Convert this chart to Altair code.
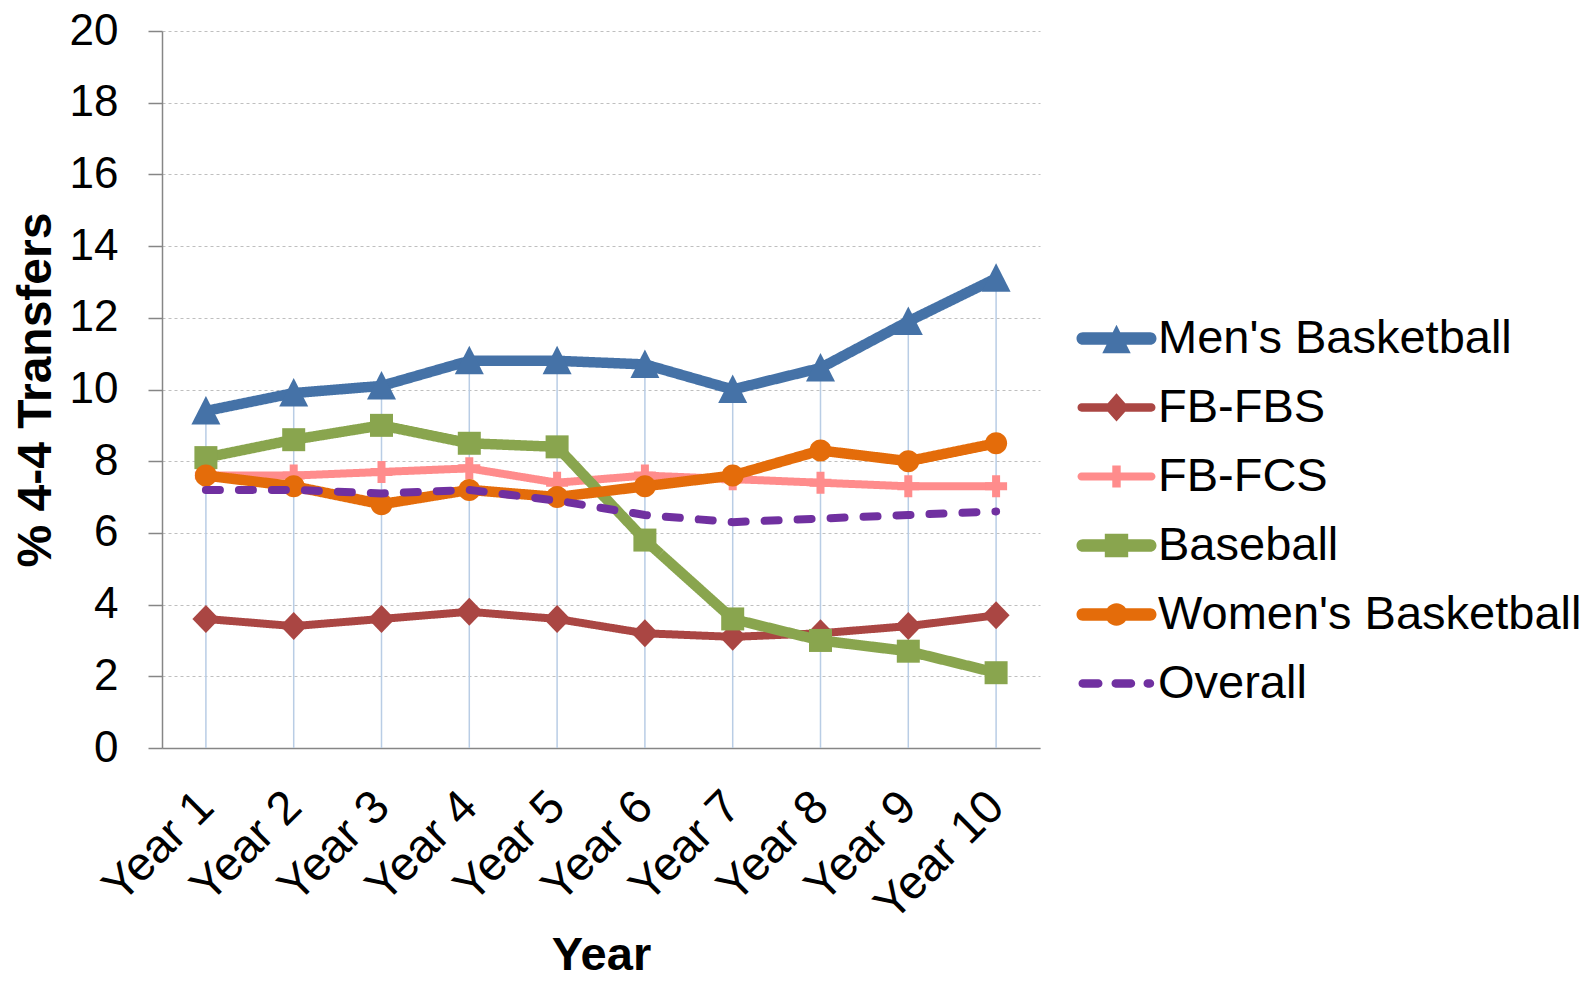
import altair as alt
import pandas as pd

years = ["Year 1", "Year 2", "Year 3", "Year 4", "Year 5",
         "Year 6", "Year 7", "Year 8", "Year 9", "Year 10"]
series_names = ["Men's Basketball", "FB-FBS", "FB-FCS", "Baseball",
                "Women's Basketball", "Overall"]

mens_bb = [9.4, 9.9, 10.1, 10.8, 10.8, 10.7, 10.0, 10.6, 11.9, 13.1]
fb_fbs = [3.6, 3.4, 3.6, 3.8, 3.6, 3.2, 3.1, 3.2, 3.4, 3.7]
fb_fcs = [7.6, 7.6, 7.7, 7.8, 7.4, 7.6, 7.5, 7.4, 7.3, 7.3]
baseball = [8.1, 8.6, 9.0, 8.5, 8.4, 5.8, 3.6, 3.0, 2.7, 2.1]
womens_bb = [7.6, 7.3, 6.8, 7.2, 7.0, 7.3, 7.6, 8.3, 8.0, 8.5]
overall = [7.2, 7.2, 7.1, 7.2, 6.9, 6.5, 6.3, 6.4, 6.5, 6.6]

y_ticks = [0, 2, 4, 6, 8, 10, 12, 14, 16, 18, 20]

# ---- styles ----
colors = ["#4572A7", "#AA4643", "#FF8C8C", "#89A54E", "#E46C0A", "#7030A0"]
widths = [10.5, 8, 8, 10.5, 10.5, 8]
dashes = [[1, 0], [1, 0], [1, 0], [1, 0], [1, 0], [14, 19]]

TRI = "M0,-1.5L1.45,1.35L-1.45,1.35Z"
DIA = "M0,-1.4L1.35,0L0,1.4L-1.35,0Z"
PLUS = ("M-0.4,-1.1L0.4,-1.1L0.4,-0.4L1.1,-0.4L1.1,0.4L0.4,0.4L0.4,1.1"
        "L-0.4,1.1L-0.4,0.4L-1.1,0.4L-1.1,-0.4L-0.4,-0.4Z")
SQR = "M-1.15,-1.15L1.15,-1.15L1.15,1.15L-1.15,1.15Z"
CIR = "M-1.1,0A1.1,1.1 0 1,1 1.1,0A1.1,1.1 0 1,1 -1.1,0Z"
markers = [TRI, DIA, PLUS, SQR, CIR, None]


def capsule(x0, x1, r):
    return (f"M{x0 + r},{-r}L{x1 - r},{-r}A{r},{r} 0 0,1 {x1 - r},{r}"
            f"L{x0 + r},{r}A{r},{r} 0 0,1 {x0 + r},{-r}Z")


legend_paths = [
    capsule(-4.0, 4.0, 0.63) + "M0,-1.37L1.42,1.47L-1.42,1.47Z",
    capsule(-3.9, 3.9, 0.42) + "M0,-1.42L1.25,0L0,1.4L-1.25,0Z",
    capsule(-3.9, 3.9, 0.4) + "M-0.42,-1.1L0.42,-1.1L0.42,1.1L-0.42,1.1Z",
    capsule(-4.0, 4.0, 0.63) + "M-1.17,-1.17L1.17,-1.17L1.17,1.17L-1.17,1.17Z",
    capsule(-4.0, 4.0, 0.62) + "M-1.12,0A1.12,1.12 0 1,1 1.12,0A1.12,1.12 0 1,1 -1.12,0Z",
    capsule(-3.8, -1.4, 0.42) + capsule(-0.5, 1.87, 0.42) + capsule(2.7, 3.77, 0.42),
]

all_values = [mens_bb, fb_fbs, fb_fcs, baseball, womens_bb, overall]
rows = []
for name, vals in zip(series_names, all_values):
    for yr, v in zip(years, vals):
        rows.append({"year": yr, "series": name, "value": v})
df = pd.DataFrame(rows)

FONT = "Liberation Sans"

x_enc = alt.X(
    "year:N", sort=years,
    scale=alt.Scale(type="point", padding=0.5),
    axis=alt.Axis(
        title="Year", titleFontSize=47, titleFontWeight="bold", titleFont=FONT,
        titleColor="#000000", titlePadding=4,
        labelFontSize=47, labelFont=FONT, labelColor="#000000",
        labelAngle=-45, labelAlign="right", labelBaseline="middle",
        labelPadding=51, ticks=False, grid=False,
        domainColor="#868686", domainWidth=1.5,
    ),
)
y_enc = alt.Y(
    "value:Q",
    scale=alt.Scale(domain=[0, 20], nice=False, zero=True),
    axis=alt.Axis(
        title="% 4-4 Transfers", titleFontSize=48, titleFontWeight="bold",
        titleFont=FONT, titleColor="#000000", titlePadding=9,
        values=y_ticks, labelFontSize=44, labelFont=FONT, labelColor="#000000",
        labelPadding=30, tickSize=14, tickColor="#868686", tickWidth=1.5,
        domainColor="#868686", domainWidth=1.5,
        grid=True, gridColor="#BFBFBF", gridDash=[3, 3], gridWidth=1,
    ),
)

base = alt.Chart(df)

drop = base.transform_aggregate(
    top="max(value)", groupby=["year"]
).mark_rule(color="#B9CDE5", strokeWidth=1.5).encode(
    x=alt.X("year:N", sort=years), y="top:Q", y2=alt.datum(0)
)

layers = [drop]
for i, name in enumerate(series_names):
    sub = base.transform_filter(alt.datum.series == name)
    line = sub.mark_line(
        color=colors[i], strokeWidth=widths[i], strokeDash=dashes[i],
        strokeCap="round" if name == "Overall" else "butt", strokeJoin="round",
    ).encode(x=x_enc, y=y_enc)
    layers.append(line)
    if markers[i] is not None:
        pts = sub.mark_point(
            shape=markers[i], size=400, filled=True, opacity=1,
            color=colors[i], strokeWidth=0,
        ).encode(x=alt.X("year:N", sort=years), y="value:Q")
        layers.append(pts)

leg = alt.Legend(
    title=None, orient="none", legendX=931, legendY=284,
    labelFontSize=47, labelFont=FONT, labelColor="#000000", labelLimit=1000,
    symbolSize=400, symbolStrokeWidth=0, rowPadding=21.0, labelOffset=18,
    symbolOpacity=1,
)
legend_layer = base.transform_filter("false").mark_point(
    filled=True, opacity=1, size=400, strokeWidth=0
).encode(
    x=alt.X("year:N", sort=years), y="value:Q",
    color=alt.Color("series:N", scale=alt.Scale(domain=series_names, range=colors), legend=leg),
    shape=alt.Shape("series:N", scale=alt.Scale(domain=series_names, range=legend_paths), legend=leg),
)
layers.append(legend_layer)

chart = alt.layer(*layers).properties(
    width=878, height=717,
    autosize=alt.AutoSizeParams(type="none"),
    padding={"left": 154, "top": 23, "right": 546, "bottom": 232},
    background="#FFFFFF",
).configure_view(stroke=None)

chart.save("out.html", embed_options={"renderer": "svg", "actions": False})
